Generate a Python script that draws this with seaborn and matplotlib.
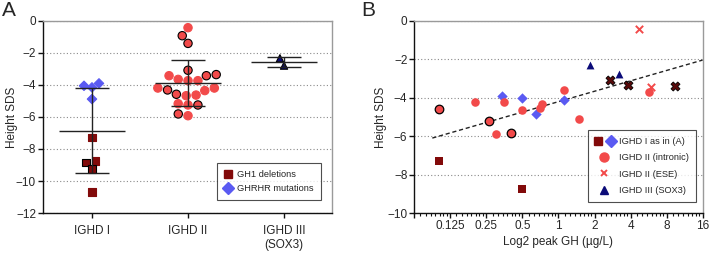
import numpy as np
import pandas as pd
import matplotlib
matplotlib.use("Agg")
import matplotlib.pyplot as plt
import matplotlib.ticker as mticker
from matplotlib.lines import Line2D
from matplotlib.legend_handler import HandlerTuple
import seaborn as sns

# ---- panel A data (Height SDS per group) ----
groups = ["IGHD I", "IGHD II", "IGHD III\n(SOX3)"]
gh1_sds = [-7.27, -8.84, -8.74, -9.24, -10.69]
gh1_edge = [0, 1, 0, 1, 0]
ghrhr_sds = [-4.15, -4.05, -3.90, -4.88]
ighd2_sds = [-0.42, -0.92, -1.40, -3.08, -3.42, -3.42, -3.35, -3.65, -3.73, -3.73, -4.19,
             -4.35, -4.31, -4.19, -4.58, -4.67, -4.63, -5.25, -5.17, -5.25, -5.92, -5.81]
ighd2_edge = [0, 1, 1, 1, 1, 0, 1, 0, 0, 0, 0,
              0, 1, 0, 1, 0, 0, 1, 0, 0, 0, 1]
sox3_sds = [-2.79, -2.33]

# ---- panel B data (peak GH ug/L vs Height SDS) ----
b_gh1_gh = [0.1, 0.5]
b_gh1_sds = [-7.29, -8.73]
b_ghrhr_gh = [0.335, 0.5, 0.649, 1.105]
b_ghrhr_sds = [-3.91, -4.01, -4.84, -4.13]
b_intr_gh = [0.1, 0.264, 0.401, 0.2, 0.353, 0.5, 0.724, 0.705, 1.105, 1.474, 5.67, 0.30]
b_intr_sds = [-4.56, -5.22, -5.81, -4.20, -4.20, -4.65, -4.30, -4.53, -3.61, -5.12, -3.71, -5.90]
b_intr_edge = [1, 1, 1, 0, 0, 0, 0, 0, 0, 0, 0, 0]
b_ese_gh = [4.68, 5.89, 2.71, 3.8, 9.45]
b_ese_sds = [-0.40, -3.42, -3.07, -3.33, -3.40]
b_ese_edge = [0, 0, 1, 1, 1]
b_sox3_gh = [1.83, 3.22]
b_sox3_sds = [-2.27, -2.76]

c_dark = "#820a0a"
c_blue = "#5a5af2"
c_red = "#f24a4a"
c_navy = "#0b0b78"
c_spine = "#9a9a9a"

sns.set_style("ticks")
plt.rcParams["font.family"] = ["Liberation Sans", "DejaVu Sans"]
plt.rcParams["font.size"] = 8.5
plt.rcParams["xtick.labelsize"] = 8.5
plt.rcParams["ytick.labelsize"] = 8.5

fig = plt.figure(figsize=(7.11, 2.54), dpi=100)
axA = fig.add_axes([0.0605, 0.1614, 0.4065, 0.756])
axB = fig.add_axes([0.5827, 0.1614, 0.4056, 0.756])


def swarm(ax, sds, grp, edges, marker, color, size):
    df = pd.DataFrame({"group": grp, "sds": sds})
    n0 = len(ax.collections)
    sns.swarmplot(data=df, x="group", y="sds", order=groups, marker=marker,
                  color=color, size=size, linewidth=0.8, ax=ax, zorder=3, warn_thresh=1)
    for coll in ax.collections[n0:]:
        if len(coll.get_offsets()) == len(sds):
            coll.set_edgecolors(["black" if e else color for e in edges])


# ---- panel A ----
swarm(axA, gh1_sds, [groups[0]] * len(gh1_sds), gh1_edge, "s", c_dark, 5.4)
swarm(axA, ghrhr_sds, [groups[0]] * len(ghrhr_sds), [0] * len(ghrhr_sds), "D", c_blue, 4.8)
swarm(axA, ighd2_sds, [groups[1]] * len(ighd2_sds), ighd2_edge, "o", c_red, 6.0)
swarm(axA, sox3_sds, [groups[2]] * len(sox3_sds), [1] * len(sox3_sds), "^", c_navy, 5.2)

all_groups = [gh1_sds + ghrhr_sds, ighd2_sds, sox3_sds]
for i, vals in enumerate(all_groups):
    m = np.mean(vals)
    s = np.std(vals, ddof=1)
    axA.hlines(m, i - 0.34, i + 0.34, color="#222222", lw=1.0, zorder=4)
    axA.errorbar(i, m, yerr=s, color="#222222", lw=1.0, capsize=12, capthick=1.0, zorder=4)

axA.set_xlim(-0.51, 2.5)
axA.set_ylim(-12, 0)
axA.set_yticks(np.arange(-12, 1, 2))
axA.set_xlabel("")
axA.set_ylabel("Height SDS")
axA.yaxis.set_label_coords(-0.088, 0.5)
axA.yaxis.grid(True, linestyle=(0, (1, 2)), color="#8a8a8a", lw=0.8)
axA.set_axisbelow(True)

legA = [Line2D([], [], marker="s", ls="", color=c_dark, markersize=6, label="GH1 deletions"),
        Line2D([], [], marker="D", ls="", color=c_blue, markersize=6, label="GHRHR mutations")]
lg = axA.legend(handles=legA, loc="lower right", bbox_to_anchor=(0.962, 0.066),
                borderaxespad=0, fontsize=6.7, frameon=True, fancybox=False,
                handletextpad=0.5, borderpad=0.75, labelspacing=0.55, handlelength=1.0)
lg.get_frame().set_edgecolor("#222222")
lg.get_frame().set_linewidth(0.8)

# ---- panel B ----
axB.set_xscale("log", base=2)
sns.scatterplot(x=b_gh1_gh, y=b_gh1_sds, marker="s", color=c_dark, s=32, linewidth=0, ax=axB, zorder=3)
sns.scatterplot(x=b_ghrhr_gh, y=b_ghrhr_sds, marker="D", color=c_blue, s=28, linewidth=0, ax=axB, zorder=3)
intr = pd.DataFrame({"gh": b_intr_gh, "sds": b_intr_sds, "edge": b_intr_edge})
sns.scatterplot(data=intr[intr.edge == 0], x="gh", y="sds", marker="o", color=c_red, s=38,
                linewidth=0, ax=axB, zorder=3)
sns.scatterplot(data=intr[intr.edge == 1], x="gh", y="sds", marker="o", color=c_red, s=38,
                edgecolor="black", linewidth=0.9, ax=axB, zorder=3)
ese = pd.DataFrame({"gh": b_ese_gh, "sds": b_ese_sds, "edge": b_ese_edge})
sns.scatterplot(data=ese[ese.edge == 0], x="gh", y="sds", marker="x", color=c_red, s=28,
                linewidth=1.4, ax=axB, zorder=3)
sns.scatterplot(data=ese[ese.edge == 1], x="gh", y="sds", marker="X", color="#5a0a0a", s=42,
                edgecolor="black", linewidth=0.6, ax=axB, zorder=3)
sns.scatterplot(x=b_sox3_gh, y=b_sox3_sds, marker="^", color=c_navy, s=32, linewidth=0, ax=axB, zorder=3)

# linear fit of Height SDS on log2 peak GH, all patients
gh_all = np.array(b_gh1_gh + b_ghrhr_gh + b_intr_gh + b_ese_gh + b_sox3_gh)
sds_all = np.array(b_gh1_sds + b_ghrhr_sds + b_intr_sds + b_ese_sds + b_sox3_sds)
slope, icpt = np.polyfit(np.log2(gh_all), sds_all, 1)
xfit = np.logspace(-3.5, 4, 50, base=2)
axB.plot(xfit, icpt + slope * np.log2(xfit), ls=(0, (3, 2)), color="#222222", lw=1.0, zorder=2)

axB.set_xlim(2 ** -4, 2 ** 4)
axB.set_ylim(-10, 0)
axB.set_yticks(np.arange(-10, 1, 2))
major = [2.0 ** k for k in range(-4, 5)]
axB.xaxis.set_major_locator(mticker.FixedLocator(major))
axB.xaxis.set_major_formatter(mticker.FixedFormatter(
    ["", "0.125", "0.25", "0.5", "1", "2", "4", "8", "16"]))
axB.xaxis.set_minor_locator(mticker.LogLocator(base=2, subs=np.arange(1.125, 2.0, 0.125), numticks=40))
axB.xaxis.set_minor_formatter(mticker.NullFormatter())
axB.set_xlabel("Log2 peak GH (\u00b5g/L)", labelpad=3)
axB.set_ylabel("Height SDS")
axB.yaxis.set_label_coords(-0.093, 0.5)
axB.yaxis.grid(True, linestyle=(0, (1, 2)), color="#8a8a8a", lw=0.8)
axB.set_axisbelow(True)

sq = Line2D([], [], marker="s", ls="", color=c_dark, markersize=6)
dm = Line2D([], [], marker="D", ls="", color=c_blue, markersize=6)
legB = [(sq, dm),
        Line2D([], [], marker="o", ls="", color=c_red, markersize=6.5),
        Line2D([], [], marker="x", ls="", color=c_red, markersize=5, markeredgewidth=1.4),
        Line2D([], [], marker="^", ls="", color=c_navy, markersize=6)]
lb = axB.legend(legB, ["IGHD I as in (A)", "IGHD II (intronic)", "IGHD II (ESE)", "IGHD III (SOX3)"],
                handler_map={tuple: HandlerTuple(ndivide=None, pad=0.5)},
                loc="lower right", bbox_to_anchor=(0.976, 0.059), borderaxespad=0,
                fontsize=6.7, frameon=True, fancybox=False, handletextpad=0.5,
                borderpad=0.7, labelspacing=0.8, handlelength=2.2)
lb.get_frame().set_edgecolor("#222222")
lb.get_frame().set_linewidth(0.8)

for ax in (axA, axB):
    for side in ("top", "right"):
        ax.spines[side].set_visible(True)
        ax.spines[side].set_color(c_spine)
        ax.spines[side].set_linewidth(1.0)
    for side in ("left", "bottom"):
        ax.spines[side].set_color("#111111")
        ax.spines[side].set_linewidth(1.0)
    ax.tick_params(axis="both", which="major", direction="out", length=3.5, width=1.0,
                   color="#111111", pad=1.5)
    ax.tick_params(axis="x", which="minor", direction="out", length=2, width=0.8, color="#111111")
axA.tick_params(axis="x", which="major", pad=5)

fig.text(0.003, 0.995, "A", fontsize=15, va="top", ha="left")
fig.text(0.508, 0.995, "B", fontsize=15, va="top", ha="left")

fig.savefig("out.png", dpi=100)
